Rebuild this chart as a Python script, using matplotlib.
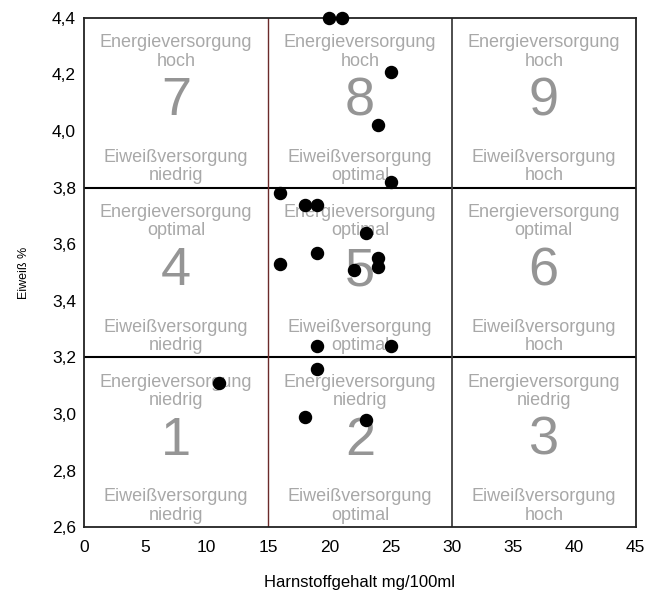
import numpy as np
import matplotlib
matplotlib.use("Agg")
import matplotlib.pyplot as plt
from matplotlib.ticker import FuncFormatter

# Messwerte: Harnstoff (mg/100ml) und Eiweiss (%)
harnstoff = [20, 21, 25, 24, 25, 16, 18, 19, 23, 19, 16, 24, 24, 22, 19, 25, 19, 11, 18, 23]
eiweiss = [4.40, 4.40, 4.21, 4.02, 3.82, 3.78, 3.74, 3.74, 3.64, 3.57, 3.53, 3.55, 3.52, 3.51,
           3.24, 3.24, 3.16, 3.11, 2.99, 2.98]

# Felder 1-9 (Spalte = Harnstoff, Zeile = Eiweiss)
x_grenzen = [0, 15, 30, 45]
y_grenzen = [2.6, 3.2, 3.8, 4.4]
energie = ["niedrig", "optimal", "hoch"]       # je Zeile
eiweiss_stufe = ["niedrig", "optimal", "hoch"]  # je Spalte

plt.rcParams['font.family'] = ['Liberation Sans', 'DejaVu Sans']

fig = plt.figure(figsize=(6.48, 5.97), dpi=100)
ax = fig.add_axes([0.130, 0.117, 0.851, 0.853])

txt_col = '#a8a8a8'
num_col = '#959595'
for r in range(3):
    for c in range(3):
        xm = (x_grenzen[c] + x_grenzen[c + 1]) / 2
        top = y_grenzen[r + 1]
        ax.text(xm, top - 0.12, "Energieversorgung\n" + energie[r], ha='center', va='center',
                color=txt_col, fontsize=13, linespacing=1.1)
        ax.text(xm, top - 0.295, str(r * 3 + c + 1), ha='center', va='center',
                color=num_col, fontsize=39)
        ax.text(xm, top - 0.525, "Eiweißversorgung\n" + eiweiss_stufe[c], ha='center', va='center',
                color=txt_col, fontsize=13, linespacing=1.1)

# Trennlinien
ax.axhline(3.2, color='black', lw=1.5, zorder=2)
ax.axhline(3.8, color='black', lw=1.5, zorder=2)
ax.axvline(15, color='#6b2a2a', lw=1.0, zorder=2)
ax.axvline(30, color='#404040', lw=1.3, zorder=2)

ax.scatter(harnstoff, eiweiss, s=75, color='black', zorder=5, clip_on=False)

ax.set_xlim(0, 45)
ax.set_ylim(2.6, 4.4)
ax.set_xticks(np.arange(0, 46, 5))
ax.set_yticks(np.arange(2.6, 4.41, 0.2))
ax.yaxis.set_major_formatter(FuncFormatter(lambda v, p: f"{v:.1f}".replace(".", ",")))
ax.tick_params(length=0, labelsize=12.5, pad=6)
ax.tick_params(axis='x', pad=9)
for s in ax.spines.values():
    s.set_linewidth(1.3)
    s.set_color('#222222')

ax.set_xlabel("Harnstoffgehalt mg/100ml", fontsize=12, labelpad=15)
ax.set_ylabel("Eiweiß %", fontsize=9, labelpad=16)

fig.savefig("out.png", dpi=100)
